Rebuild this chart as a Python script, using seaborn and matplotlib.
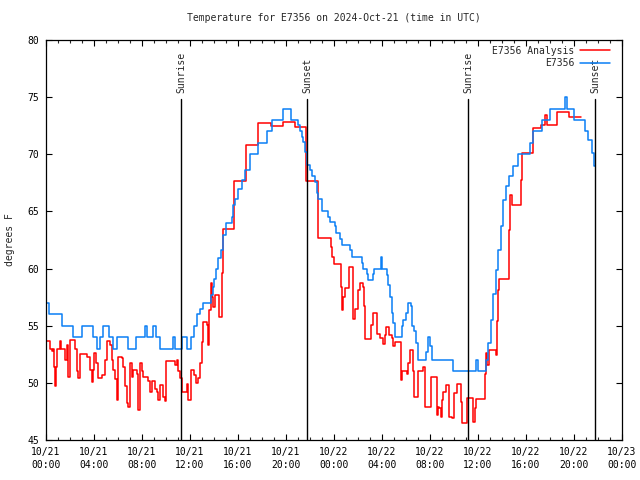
import matplotlib
matplotlib.use("Agg")
import matplotlib.pyplot as plt
from matplotlib.ticker import MultipleLocator, FixedLocator
import seaborn as sns

# ---------------- data (hours since 10/21 00:00 UTC, degrees F) ----------------
obs_hours = [0.0, 0.25, 1.31, 2.28, 3.0, 3.94, 4.22, 4.5, 4.78, 5.25, 5.61, 5.94, 6.86, 7.5,
             8.25, 8.44, 8.94, 9.17, 9.5, 10.56, 10.75, 11.31, 11.72, 12.1, 12.35, 12.6, 12.85,
             13.06, 13.75, 13.89, 14.0, 14.17, 14.36, 14.56, 14.72, 14.78, 15.0, 15.47, 15.61,
             15.75, 15.97, 16.31, 16.58, 17.0, 17.7, 18.39, 18.86, 19.78, 20.39, 21.03, 21.17,
             21.31, 21.44, 21.59, 21.72, 22.0, 22.14, 22.42, 22.56, 22.7, 22.97, 23.53, 23.67,
             24.09, 24.17, 24.5, 24.64, 25.34, 25.47, 26.31, 26.45, 26.73, 26.86, 27.23, 27.34,
             27.89, 27.98, 28.45, 28.53, 28.67, 28.81, 28.95, 29.09, 29.64, 29.78, 30.0, 30.2,
             30.39, 30.53, 30.7, 30.84, 31.03, 31.67, 31.86, 32.0, 32.2, 33.95, 35.81, 36.03,
             36.67, 36.86, 37.06, 37.28, 37.5, 37.69, 37.89, 38.11, 38.33, 38.61, 38.94, 39.36,
             40.33, 40.61, 41.31, 42.0, 43.25, 43.39, 44.03, 44.92, 45.19, 45.47, 45.69, 45.75]
obs_temp = [57, 56, 55, 54, 55, 54, 53, 54, 55, 54, 53, 54, 53, 54,
            55, 54, 55, 54, 53, 54, 53, 54, 53, 54, 55, 56, 56.5,
            57, 57.7, 58.4, 59.1, 60.0, 60.9, 61.6, 62.35, 62.9, 64.0, 64.5, 65.6,
            66.1, 67.0, 67.75, 68.6, 70.0, 71.0, 72.0, 73.0, 74.0, 73.0, 72.6, 72.0,
            71.5, 71.1, 70.2, 69.1, 68.6, 68.1, 67.6, 66.6, 66.1, 65.0, 64.5, 64.1,
            63.7, 63.1, 62.6, 62.1, 61.6, 61.0, 60.5, 60.0, 59.5, 59.0, 59.5, 60.0,
            61.0, 60.0, 59.4, 58.6, 57.5, 56.1, 55.2, 54.0, 55.0, 55.5, 56.1, 57.0,
            56.7, 55.0, 54.5, 53.5, 52.0, 52.7, 54.0, 53.2, 52.0, 51.0, 52.0, 51.0,
            52.0, 53.5, 55.5, 57.8, 59.9, 61.6, 63.7, 66.0, 67.2, 68.1, 69.0, 70.0,
            71.0, 72.0, 73.0, 74.0, 75.0, 74.0, 73.0, 72.0, 71.25, 70.1, 69.0, 69.0]

analysis_hours = [0.0, 0.33, 0.47, 0.61, 0.67, 0.75, 0.83, 0.89, 1.17, 1.25, 1.58, 1.72, 1.86,
                  2.0, 2.42, 2.56, 2.69, 2.83, 3.39, 3.67, 3.81, 3.94, 4.03, 4.17, 4.36, 4.64,
                  4.92, 5.06, 5.33, 5.47, 5.61, 5.75, 5.89, 6.03, 6.31, 6.44, 6.58, 6.72, 6.86,
                  7.0, 7.14, 7.28, 7.56, 7.69, 7.83, 7.97, 8.11, 8.53, 8.67, 8.81, 9.08, 9.22,
                  9.36, 9.5, 9.78, 9.92, 10.0, 10.75, 10.89, 11.03, 11.17, 11.31, 11.72, 11.86,
                  12.05, 12.3, 12.5, 12.69, 12.83, 12.97, 13.11, 13.39, 13.53, 13.61, 13.72,
                  13.81, 13.94, 14.08, 14.44, 14.64, 14.72, 15.69, 16.67, 17.7, 18.72, 19.72,
                  20.75, 21.64, 22.64, 23.72, 23.86, 24.0, 24.56, 24.64, 24.78, 24.92, 25.28,
                  25.61, 25.75, 26.03, 26.17, 26.39, 26.5, 26.58, 27.08, 27.22, 27.61, 27.83,
                  28.11, 28.25, 28.33, 28.58, 28.81, 28.94, 29.08, 29.58, 29.64, 30.11, 30.19,
                  30.33, 30.61, 30.67, 31.03, 31.44, 31.58, 32.06, 32.56, 32.64, 32.78, 32.89,
                  32.97, 33.11, 33.31, 33.61, 33.81, 34.03, 34.22, 34.6, 34.7, 35.08, 35.56,
                  35.6, 35.75, 35.83, 36.58, 36.67, 36.78, 36.89, 37.47, 37.56, 37.67, 37.78,
                  38.61, 38.67, 38.81, 39.56, 39.64, 40.61, 41.25, 41.58, 41.78, 42.61, 43.61,
                  44.56]
analysis_temp = [53.7, 53.0, 52.8, 53.0, 51.4, 49.7, 51.4, 53.0, 53.7, 53.0, 52.0, 53.3, 50.5,
                 53.75, 53.0, 51.0, 50.4, 52.5, 52.3, 51.1, 50.1, 51.1, 52.6, 51.7, 50.45, 50.7,
                 52.0, 53.7, 53.3, 52.0, 51.1, 50.3, 48.5, 52.3, 52.2, 51.4, 49.7, 48.2, 47.9,
                 51.7, 50.5, 51.1, 50.8, 47.6, 51.7, 51.0, 50.5, 50.2, 49.2, 50.2, 49.5, 49.2,
                 48.5, 49.8, 48.8, 48.4, 51.9, 51.6, 52.0, 51.0, 50.4, 49.2, 49.9, 48.5,
                 51.1, 50.7, 50.0, 50.4, 51.7, 53.6, 55.3, 55.1, 53.3, 56.4, 58.7,
                 57.5, 56.6, 57.7, 55.8, 59.6, 63.5, 67.7, 70.8, 72.7, 72.5, 72.85,
                 72.4, 67.7, 62.7, 61.9, 61.0, 60.4, 58.4, 56.4, 57.5, 58.3, 60.1,
                 55.6, 56.5, 58.1, 58.7, 58.4, 56.7, 53.8, 55.06, 56.1, 54.3, 53.9,
                 53.4, 54.2, 54.9, 54.2, 53.9, 53.2, 53.6, 50.25, 51.0, 50.8, 51.7,
                 52.9, 51.0, 48.8, 51.0, 51.4, 47.9, 50.5, 47.2, 47.9, 47.8, 47.05,
                 48.5, 49.2, 49.8, 47.05, 46.9, 49.1, 49.9, 48.3, 46.5, 48.65, 47.6,
                 46.6, 47.8, 48.6, 50.8, 52.6, 51.6, 52.9, 52.4, 55.4, 58.1, 59.1,
                 63.4, 66.4, 65.6, 67.75, 70.1, 72.3, 72.6, 73.4, 72.6, 73.7, 73.3,
                 73.3]

sun_events = ["Sunrise", "Sunset", "Sunrise", "Sunset"]
sun_hours = [11.25, 21.75, 35.17, 45.75]

x_tick_hours = [0, 4, 8, 12, 16, 20, 24, 28, 32, 36, 40, 44, 48]
x_tick_labels = ["10/21\n00:00", "10/21\n04:00", "10/21\n08:00", "10/21\n12:00",
                 "10/21\n16:00", "10/21\n20:00", "10/22\n00:00", "10/22\n04:00",
                 "10/22\n08:00", "10/22\n12:00", "10/22\n16:00", "10/22\n20:00",
                 "10/23\n00:00"]
y_ticks = [45, 50, 55, 60, 65, 70, 75, 80]

title = "Temperature for E7356 on 2024-Oct-21 (time in UTC)"
series_names = ["E7356 Analysis", "E7356"]

# ---------------- plot ----------------
sns.set_style("ticks")
plt.rcParams["font.family"] = ["DejaVu Sans Mono", "DejaVu Sans"]
plt.rcParams["font.size"] = 7

fig = plt.figure(figsize=(6.4, 4.8), dpi=100)
ax = fig.add_axes([46 / 640, 40 / 480, 576 / 640, 400 / 480])

RED = "#ff0000"
BLUE = "#0a7ff5"

sns.lineplot(x=analysis_hours, y=analysis_temp, ax=ax, color=RED, linewidth=1.1,
             drawstyle="steps-post", estimator=None, sort=False, label=series_names[0])
sns.lineplot(x=obs_hours, y=obs_temp, ax=ax, color=BLUE, linewidth=1.1,
             drawstyle="steps-post", estimator=None, sort=False, label=series_names[1])

ax.set_xlim(0, 48)
ax.set_ylim(45, 80)

line_top = (74.8 - 45) / 35
for name, h in zip(sun_events, sun_hours):
    ax.axvline(h, ymin=0, ymax=line_top, color="black", linewidth=1.0)
    ax.text(h, 75.35, name, rotation=90, ha="center", va="bottom", fontsize=7)

ax.xaxis.set_major_locator(FixedLocator(x_tick_hours))
ax.set_xticklabels(x_tick_labels, linespacing=1.35)
ax.xaxis.set_minor_locator(MultipleLocator(1))
ax.set_yticks(y_ticks)
ax.set_yticklabels([str(v) for v in y_ticks])

ax.tick_params(which="major", direction="in", top=True, right=True, length=4,
               width=0.8, pad=5, labelsize=7, colors="black")
ax.tick_params(which="minor", direction="in", top=True, right=False, length=2, width=0.8)
for s in ax.spines.values():
    s.set_visible(True)
    s.set_color("black")
    s.set_linewidth(0.9)

ax.set_title(title, fontsize=7, pad=14)
ax.set_ylabel("degrees F", fontsize=7, labelpad=9)
ax.set_xlabel("")

handles, labels = ax.get_legend_handles_labels()
ax.legend(handles, labels, loc="upper right", bbox_to_anchor=(0.99, 1.0), frameon=False,
          markerfirst=False, handlelength=3.1, handletextpad=0.6, labelspacing=0.25,
          fontsize=7, borderaxespad=0.2)

fig.savefig("out.png", dpi=100)
